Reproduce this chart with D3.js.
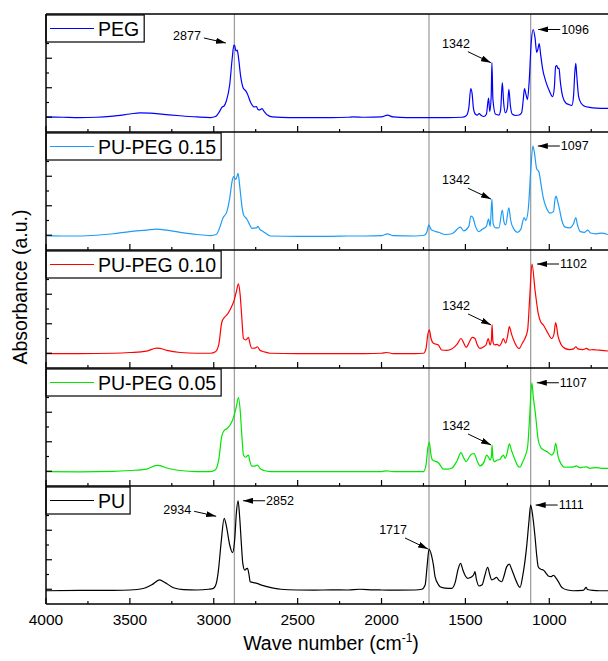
<!DOCTYPE html>
<html>
<head>
  <title>FTIR spectra</title>
  <script src="https://d3js.org/d3.v7.min.js"></script>
  <style>
    html, body { margin: 0; padding: 0; background: #fff; overflow: hidden; }
    svg { display: block; font-family: "Liberation Sans", Arial, sans-serif; }
  </style>
</head>
<body>
  <svg id="chart" width="608" height="661"></svg>
  <script>
    // spectra as [wave number, absorbance] pairs (arbitrary units, baseline ~1)
    var pegData = [[4000,1.02],[3900,1.0],[3800,0.98],[3700,1.0],[3600,1.08],[3500,1.22],[3440,1.3],[3380,1.28],[3300,1.2],[3200,1.1],[3100,1.02],[3020,0.98],[2990,1.05],[2965,1.4],[2950,1.7],[2940,1.75],[2925,2.1],[2905,3.2],[2890,5.0],[2880,5.9],[2875,5.85],[2868,5.5],[2860,5.55],[2852,5.0],[2840,3.8],[2825,3.0],[2810,2.8],[2800,2.6],[2780,2.0],[2760,1.7],[2745,1.72],[2738,1.55],[2725,1.5],[2712,1.58],[2700,1.4],[2680,1.15],[2650,1.02],[2550,0.98],[2400,0.98],[2300,0.98],[2200,1.0],[2170,1.03],[2100,1.0],[2000,1.02],[1965,1.14],[1930,1.02],[1850,0.98],[1750,0.98],[1600,0.98],[1520,1.0],[1495,1.1],[1480,1.6],[1468,2.95],[1460,2.6],[1452,1.6],[1440,1.2],[1430,1.15],[1418,1.25],[1405,1.12],[1390,1.05],[1375,1.2],[1362,2.3],[1355,1.4],[1346,2.5],[1342,4.7],[1336,2.2],[1320,1.2],[1300,1.15],[1290,1.5],[1280,3.35],[1272,2.0],[1262,1.3],[1250,1.6],[1241,2.9],[1232,1.8],[1220,1.2],[1200,1.12],[1180,1.15],[1165,1.3],[1155,2.2],[1148,2.95],[1140,2.6],[1130,2.2],[1120,3.4],[1108,6.0],[1096,6.95],[1085,6.4],[1075,5.4],[1068,5.6],[1060,6.0],[1052,5.3],[1040,4.3],[1020,3.4],[1000,2.8],[980,2.4],[970,3.0],[962,4.45],[955,4.5],[948,4.3],[942,4.33],[935,3.5],[920,2.4],[900,1.95],[880,1.85],[865,1.8],[855,2.5],[848,4.0],[842,4.65],[836,3.8],[825,2.4],[810,1.95],[790,1.75],[760,1.67],[720,1.62],[650,1.6]];

    var pupeg15Data = [[4000,0.97],[3900,0.95],[3800,0.95],[3700,1.0],[3600,1.1],[3500,1.25],[3400,1.35],[3340,1.42],[3280,1.35],[3200,1.2],[3100,1.05],[3020,0.98],[2985,1.05],[2965,1.5],[2946,2.15],[2922,2.6],[2905,3.5],[2890,4.7],[2882,4.97],[2868,4.79],[2855,5.2],[2845,4.3],[2830,2.8],[2823,2.4],[2803,2.1],[2785,1.7],[2773,1.47],[2745,1.5],[2737,1.6],[2725,1.4],[2704,1.24],[2680,1.05],[2664,0.95],[2500,0.93],[2300,0.93],[2200,0.95],[2100,0.95],[2000,0.97],[1965,1.1],[1930,0.97],[1800,0.95],[1745,1.0],[1730,1.2],[1718,1.7],[1705,1.4],[1690,1.3],[1660,1.2],[1620,1.05],[1580,1.1],[1530,1.55],[1510,1.3],[1480,1.6],[1467,2.3],[1455,2.2],[1440,1.6],[1420,1.25],[1400,1.4],[1375,1.6],[1362,2.1],[1352,1.6],[1342,3.45],[1335,1.8],[1320,1.5],[1300,1.5],[1280,2.7],[1270,1.9],[1260,1.7],[1241,2.85],[1230,2.0],[1210,1.4],[1190,1.2],[1170,1.4],[1150,2.2],[1140,2.0],[1125,2.8],[1110,5.5],[1098,7.05],[1090,6.7],[1075,5.5],[1062,5.3],[1050,4.5],[1035,3.5],[1015,2.8],[995,2.5],[975,2.6],[965,3.5],[960,3.65],[950,3.3],[940,2.8],[925,2.0],[905,1.55],[880,1.5],[855,1.8],[842,2.2],[832,1.7],[815,1.25],[790,1.2],[770,1.35],[755,1.15],[720,1.1],[690,1.15],[650,1.05]];

    var pupeg10Data = [[4000,0.98],[3800,0.97],[3600,1.0],[3500,1.05],[3400,1.15],[3340,1.35],[3320,1.33],[3280,1.2],[3200,1.05],[3100,1.0],[3020,1.0],[2990,1.1],[2970,1.6],[2952,3.1],[2935,3.45],[2922,3.6],[2905,3.9],[2892,4.2],[2878,4.6],[2865,5.2],[2853,5.7],[2843,5.0],[2833,3.44],[2823,2.0],[2810,1.9],[2800,2.0],[2793,2.08],[2785,1.7],[2773,1.34],[2755,1.35],[2740,1.44],[2725,1.2],[2700,1.1],[2664,1.0],[2500,0.98],[2300,0.98],[2100,0.98],[2000,1.0],[1969,1.05],[1930,0.98],[1800,0.98],[1750,1.0],[1735,1.3],[1725,2.2],[1715,2.58],[1705,2.0],[1691,1.68],[1661,1.56],[1641,1.22],[1610,1.2],[1582,1.29],[1550,1.6],[1526,2.0],[1510,1.7],[1496,1.4],[1475,1.8],[1459,2.08],[1443,2.0],[1430,1.6],[1413,1.33],[1390,1.45],[1377,1.56],[1364,2.0],[1353,1.56],[1345,1.9],[1341,2.92],[1336,1.8],[1327,1.56],[1310,1.6],[1298,1.5],[1285,1.7],[1274,2.0],[1260,1.68],[1248,2.2],[1238,2.8],[1225,2.3],[1205,1.7],[1190,1.4],[1179,1.33],[1160,1.7],[1145,2.0],[1129,2.58],[1118,4.5],[1103,7.05],[1085,5.29],[1066,3.71],[1050,3.1],[1036,2.92],[1010,2.4],[986,2.0],[972,2.3],[962,3.07],[947,2.12],[930,1.6],[907,1.33],[880,1.25],[855,1.3],[841,1.44],[830,1.3],[800,1.25],[778,1.33],[760,1.22],[740,1.25],[718,1.22],[690,1.2],[650,1.15]];

    var pupeg05Data = [[4000,0.97],[3800,0.96],[3600,0.99],[3500,1.05],[3400,1.15],[3340,1.4],[3320,1.38],[3280,1.22],[3200,1.05],[3100,0.98],[3020,0.98],[2990,1.1],[2970,1.8],[2952,3.4],[2935,3.8],[2920,3.9],[2905,4.1],[2890,4.4],[2878,4.8],[2865,5.4],[2853,6.0],[2843,5.2],[2833,3.5],[2823,2.1],[2810,1.95],[2800,2.05],[2793,2.1],[2785,1.7],[2773,1.35],[2755,1.35],[2740,1.42],[2725,1.2],[2700,1.05],[2664,0.98],[2500,0.97],[2300,0.97],[2100,0.97],[2000,0.98],[1969,1.03],[1930,0.97],[1800,0.97],[1750,0.98],[1735,1.4],[1725,2.5],[1715,2.96],[1705,2.1],[1696,1.76],[1661,1.58],[1631,1.15],[1600,1.15],[1582,1.2],[1550,1.7],[1526,2.26],[1510,1.9],[1496,1.65],[1475,2.0],[1462,2.17],[1448,2.2],[1430,1.7],[1413,1.36],[1390,1.6],[1373,2.1],[1360,1.9],[1353,1.76],[1345,2.0],[1341,2.78],[1336,1.9],[1327,1.65],[1310,1.76],[1295,1.8],[1285,1.95],[1274,2.1],[1262,1.88],[1250,2.3],[1238,2.85],[1225,2.4],[1205,1.8],[1190,1.4],[1174,1.27],[1160,1.6],[1145,1.99],[1129,2.67],[1118,4.5],[1104,7.0],[1095,6.0],[1083,4.93],[1066,3.12],[1050,2.6],[1033,2.44],[1010,2.3],[986,2.1],[972,2.3],[962,2.89],[947,1.99],[930,1.5],[907,1.27],[880,1.28],[855,1.3],[838,1.36],[820,1.25],[800,1.27],[778,1.3],[760,1.2],[718,1.25],[690,1.2],[650,1.2]];

    var puData = [[4000,0.9],[3800,0.92],[3600,0.93],[3500,0.95],[3420,1.05],[3370,1.3],[3323,1.63],[3290,1.45],[3240,1.1],[3180,0.97],[3100,0.95],[3030,1.0],[3002,1.06],[2985,1.4],[2972,2.3],[2955,4.3],[2938,5.81],[2925,5.3],[2905,4.0],[2888,3.48],[2875,4.4],[2865,6.2],[2855,7.0],[2845,5.8],[2835,4.0],[2827,2.76],[2815,2.3],[2805,2.4],[2799,2.42],[2790,2.0],[2783,1.51],[2763,1.45],[2743,1.4],[2720,1.3],[2683,1.18],[2600,1.0],[2500,0.95],[2400,0.94],[2300,0.96],[2200,0.95],[2130,1.0],[2050,0.96],[2000,0.95],[1900,0.94],[1800,0.95],[1760,1.0],[1740,1.29],[1728,2.6],[1717,3.73],[1701,3.25],[1690,2.6],[1681,1.85],[1660,1.3],[1651,1.17],[1620,1.08],[1582,1.06],[1560,1.5],[1545,2.3],[1529,2.76],[1515,2.3],[1500,1.9],[1486,1.74],[1475,1.78],[1462,1.85],[1450,2.0],[1443,2.19],[1435,1.7],[1419,1.22],[1400,1.3],[1385,1.9],[1367,2.49],[1355,2.0],[1343,1.63],[1330,1.7],[1314,1.81],[1300,1.6],[1284,1.51],[1270,1.9],[1255,2.5],[1238,2.71],[1226,2.4],[1215,2.08],[1195,1.5],[1174,1.13],[1160,1.8],[1135,3.89],[1122,5.5],[1111,6.71],[1098,5.9],[1085,4.56],[1075,3.3],[1066,2.53],[1050,2.35],[1036,2.31],[1020,2.1],[1006,1.9],[990,1.85],[975,1.95],[966,1.85],[945,1.5],[930,1.2],[917,1.06],[890,0.95],[857,0.9],[800,0.92],[790,1.0],[781,1.13],[772,0.98],[740,0.92],[700,0.9],[650,0.9]];

    var seriesNames = ["PEG", "PU-PEG 0.15", "PU-PEG 0.10", "PU-PEG 0.05", "PU"];
    var seriesData = [pegData, pupeg15Data, pupeg10Data, pupeg05Data, puData];
    var seriesColors = ["#0000ff", "#1e9cf5", "#ff0000", "#00e600", "#000000"];

    var xTicks = [4000, 3500, 3000, 2500, 2000, 1500, 1000];
    var guideLines = [2877, 1717, 1111];

    // peak labels: [panel index, label, kind of arrow]
    var peakLabels = [
      [0, 2877, "left"], [0, 1342, "upleft"], [0, 1096, "right"],
      [1, 1342, "upleft"], [1, 1097, "right"],
      [2, 1342, "upleft"], [2, 1102, "right"],
      [3, 1342, "upleft"], [3, 1107, "right"],
      [4, 2934, "left"], [4, 2852, "right"], [4, 1717, "upleft"], [4, 1111, "right"]
    ];

    var plotL = 46, plotR = 608, plotT = 14, panelH = 118;
    var nPanels = seriesNames.length;
    var plotB = plotT + panelH * nPanels;

    var svg = d3.select("#chart");
    var x = d3.scaleLinear().domain([4000, 650]).range([plotL, plotR]);

    svg.append("defs").append("marker")
      .attr("id", "arrow")
      .attr("markerUnits", "userSpaceOnUse")
      .attr("viewBox", "0 0 10 6")
      .attr("refX", 10).attr("refY", 3)
      .attr("markerWidth", 10).attr("markerHeight", 6)
      .attr("orient", "auto")
      .append("path").attr("d", "M0,0L10,3L0,6Z").attr("fill", "#000");

    // vertical guide lines over all panels
    svg.append("g").selectAll("line").data(guideLines).join("line")
      .attr("x1", d => x(d)).attr("x2", d => x(d))
      .attr("y1", plotT).attr("y2", plotB)
      .attr("stroke", "#a0a0a0").attr("stroke-width", 1.3);

    var minorTicks = d3.range(4000, 650, -250);

    seriesNames.forEach(function (name, i) {
      var pTop = plotT + i * panelH, pBot = pTop + panelH;
      var y = d3.scaleLinear().domain([0, 8]).range([pBot, pTop]);
      var g = svg.append("g");

      var line = d3.line().x(d => x(d[0])).y(d => y(d[1])).curve(d3.curveMonotoneX);
      g.append("path").datum(seriesData[i])
        .attr("fill", "none")
        .attr("stroke", seriesColors[i])
        .attr("stroke-width", 1.2)
        .attr("d", line);

      // bottom axis ticks (inside)
      g.append("g").selectAll("line").data(minorTicks).join("line")
        .attr("x1", d => x(d)).attr("x2", d => x(d))
        .attr("y1", pBot).attr("y2", d => pBot - (d % 500 === 0 ? 6 : 3))
        .attr("stroke", "#000").attr("stroke-width", 1.2);

      // left axis ticks (inside)
      g.append("g").selectAll("line").data(d3.range(1, 8)).join("line")
        .attr("x1", plotL).attr("x2", d => plotL + (d % 2 === 1 ? 6 : 3))
        .attr("y1", d => y(d)).attr("y2", d => y(d))
        .attr("stroke", "#000").attr("stroke-width", 1.2);

      g.append("line")
        .attr("x1", plotL).attr("x2", plotR)
        .attr("y1", pBot).attr("y2", pBot)
        .attr("stroke", "#000").attr("stroke-width", 1.5);

      // legend
      var lg = g.append("g");
      var box = lg.append("rect")
        .attr("x", plotL).attr("y", pTop + 1)
        .attr("height", 27)
        .attr("fill", "#fff").attr("stroke", "#000").attr("stroke-width", 1.2);
      lg.append("line")
        .attr("x1", 50).attr("x2", 94)
        .attr("y1", pTop + 14.5).attr("y2", pTop + 14.5)
        .attr("stroke", seriesColors[i]).attr("stroke-width", 1.2);
      var txt = lg.append("text")
        .attr("x", 98).attr("y", pTop + 21.5)
        .attr("font-size", 19.5)
        .text(name);
      box.attr("width", 98 - plotL + txt.node().getComputedTextLength() + 5);

      // peak labels
      peakLabels.filter(p => p[0] === i).forEach(function (p) {
        var wave = p[1];
        var near = seriesData[i].filter(d => Math.abs(d[0] - wave) <= 12);
        var pk = near.reduce((a, b) => (b[1] > a[1] ? b : a));
        var px = x(pk[0]), py = y(pk[1]);
        var tip, tail, tx, ty, anchor;
        if (p[2] === "right") {
          tip = [px + 5, py]; tail = [px + 27, py];
          tx = tail[0] + 1; ty = py; anchor = "start";
        } else if (p[2] === "left") {
          tip = [px - 8, py - 2]; tail = [tip[0] - 22, tip[1] - 5];
          tx = tail[0] - 3; ty = tail[1] - 2; anchor = "end";
        } else {
          tip = [px - 1, py]; tail = [tip[0] - 23, tip[1] - 11];
          tx = tail[0] + 2; ty = tail[1] - 8; anchor = "end";
        }
        g.append("line")
          .attr("x1", tail[0]).attr("y1", tail[1])
          .attr("x2", tip[0]).attr("y2", tip[1])
          .attr("stroke", "#000").attr("stroke-width", 1)
          .attr("marker-end", "url(#arrow)");
        g.append("text")
          .attr("x", tx).attr("y", ty)
          .attr("dy", "0.35em")
          .attr("text-anchor", anchor)
          .attr("font-size", 12.5)
          .text(wave);
      });
    });

    // frame
    svg.append("line").attr("x1", plotL).attr("x2", plotR).attr("y1", plotT).attr("y2", plotT)
      .attr("stroke", "#000").attr("stroke-width", 1.5);
    svg.append("line").attr("x1", plotL).attr("x2", plotL).attr("y1", plotT).attr("y2", plotB)
      .attr("stroke", "#000").attr("stroke-width", 1.5);

    // tick labels
    svg.append("g").selectAll("text").data(xTicks).join("text")
      .attr("x", d => x(d)).attr("y", plotB + 21)
      .attr("text-anchor", "middle")
      .attr("font-size", 15.5)
      .text(d => d);

    var xt = svg.append("text")
      .attr("x", 331).attr("y", 650)
      .attr("text-anchor", "middle")
      .attr("font-size", 19.5);
    xt.append("tspan").text("Wave number (cm");
    xt.append("tspan").attr("font-size", 12).attr("dy", -8).text("-1");
    xt.append("tspan").attr("dy", 8).text(")");

    svg.append("text")
      .attr("transform", "translate(27,287) rotate(-90)")
      .attr("text-anchor", "middle")
      .attr("font-size", 19.5)
      .text("Absorbance (a.u.)");
  </script>
</body>
</html>
